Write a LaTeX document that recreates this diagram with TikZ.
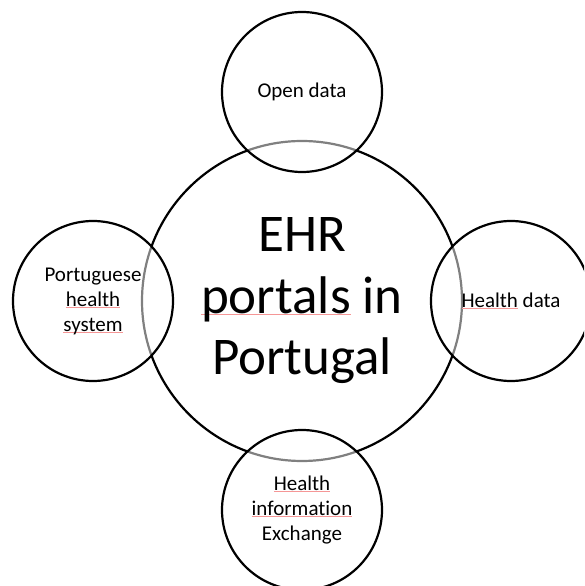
\documentclass[tikz,border=0pt]{standalone}
\usepackage{fontspec}
\setmainfont[Ligatures=NoCommon]{Carlito}
\usetikzlibrary{positioning}
\definecolor{spellred}{RGB}{245,150,150}
% thin red mark under a word
\newcommand\flagged[1]{\setbox0\hbox{#1}\rlap{\color{spellred}\rule[-1.6pt]{\wd0}{0.8pt}}\box0\relax}
\tikzset{
  hub/.style   = {circle, draw, line width=2.2pt, minimum size=320pt, inner sep=0pt,
                  align=center, font=\fontsize{53}{61.5}\selectfont},
  topic/.style = {circle, draw, line width=2.2pt, minimum size=160pt, inner sep=0pt,
                  fill=white, fill opacity=0.5, text opacity=1,
                  align=center, font=\fontsize{21}{25}\selectfont},
}

\begin{document}
\begin{tikzpicture}[node distance=209pt, on grid]
  \clip (-302pt,-285pt) rectangle (282pt,301pt);
  % ---- centre topic ------------------------------------------------------
  \node[hub] (ehr) at (0,0) {EHR\\\flagged{portals} in\\Portugal};
  % ---- surrounding topics ------------------------------------------------
  \node[topic, above=of ehr] (open)   {Open data};
  \node[topic, right=of ehr] (hdata)  {\flagged{Health} data};
  \node[topic, below=of ehr] (hie)    {\flagged{Health}\\\flagged{information}\\Exchange};
  \node[topic, left=of ehr]  (system) {Portuguese\\\flagged{health}\\\flagged{system}};
\end{tikzpicture}
\end{document}
